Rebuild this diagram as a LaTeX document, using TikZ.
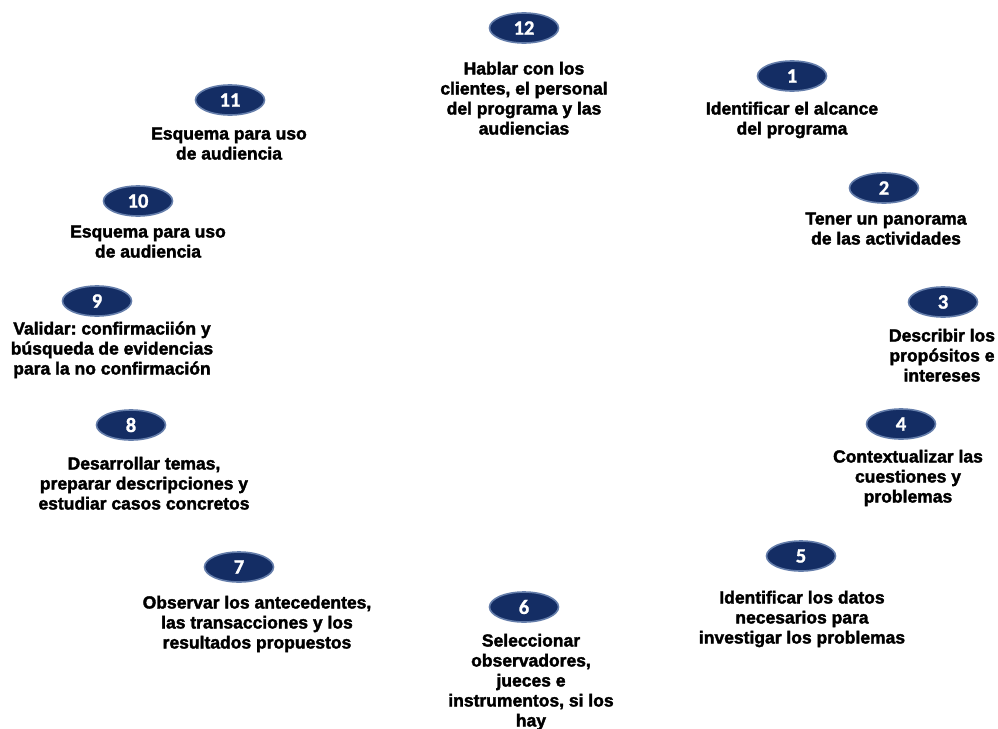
\documentclass[tikz,border=0pt]{standalone}
\usepackage{fontspec}
\setmainfont{Liberation Sans}
\newfontfamily\labelfont{Liberation Sans Bold}[FakeBold=2.0]
\newfontfamily\numfont{Carlito Bold}[FakeBold=1.2]
\usetikzlibrary{shapes.geometric}
\definecolor{badgefill}{RGB}{20,45,100}
\definecolor{badgeedge}{RGB}{100,125,170}
\tikzset{
  badge/.style={ellipse, fill=badgefill, draw=badgeedge, line width=1.6pt,
    minimum width=69pt, minimum height=30pt, inner sep=0pt,
    text=white, font=\numfont\fontsize{20.5}{20.5}\selectfont},
  steptext/.style={anchor=north, align=center, inner sep=0pt, text=black,
    font=\labelfont\frenchspacing\fontsize{17.5}{20}\selectfont},
}
\newcommand{\firstline}{\rule{0pt}{15pt}}
\begin{document}
\begin{tikzpicture}[x=1pt, y=-1pt]
  \useasboundingbox (0,0) rectangle (998,728);
  \fill[white] (0,0) rectangle (998,728);

  % numbered badges
  \node[badge] (n12) at (524,28)  {12};
  \node[badge] (n1)  at (792,76)  {1};
  \node[badge] (n2)  at (884,188) {2};
  \node[badge] (n3)  at (943,302) {3};
  \node[badge] (n4)  at (901,424) {4};
  \node[badge] (n5)  at (801,556) {5};
  \node[badge] (n6)  at (524,607) {6};
  \node[badge] (n7)  at (239,567) {7};
  \node[badge] (n8)  at (131,425) {8};
  \node[badge] (n9)  at (97,301)  {9};
  \node[badge] (n10) at (138,201) {10};
  \node[badge] (n11) at (230,100) {11};

  % step descriptions
  \node[steptext] (t12) at (524,59.3) {\firstline Hablar con los\\clientes, el personal\\del programa y las\\audiencias};
  \node[steptext] (t1) at (792,99.3) {\firstline Identificar el alcance\\del programa};
  \node[steptext] (t2) at (886,209.3) {\firstline Tener un panorama\\de las actividades};
  \node[steptext] (t3) at (942,326.3) {\firstline Describir los\\propósitos e\\intereses};
  \node[steptext] (t4) at (908,447.3) {\firstline Contextualizar las\\cuestiones y\\problemas};
  \node[steptext] (t5) at (802,588.3) {\firstline Identificar los datos\\necesarios para\\investigar los problemas};
  \node[steptext] (t6) at (531,631.3) {\firstline Seleccionar\\observadores,\\jueces e\\instrumentos, si los\\hay};
  \node[steptext] (t7) at (257,593.3) {\firstline Observar los antecedentes,\\las transacciones y los\\resultados propuestos};
  \node[steptext] (t8) at (144,454.3) {\firstline Desarrollar temas,\\preparar descripciones y\\estudiar casos concretos};
  \node[steptext] (t9) at (112,319.3) {\firstline Validar: confirmaciión y\\búsqueda de evidencias\\para la no confirmación};
  \node[steptext] (t10) at (148,222.3) {\firstline Esquema para uso\\de audiencia};
  \node[steptext] (t11) at (229,124.3) {\firstline Esquema para uso\\de audiencia};
\end{tikzpicture}
\end{document}
